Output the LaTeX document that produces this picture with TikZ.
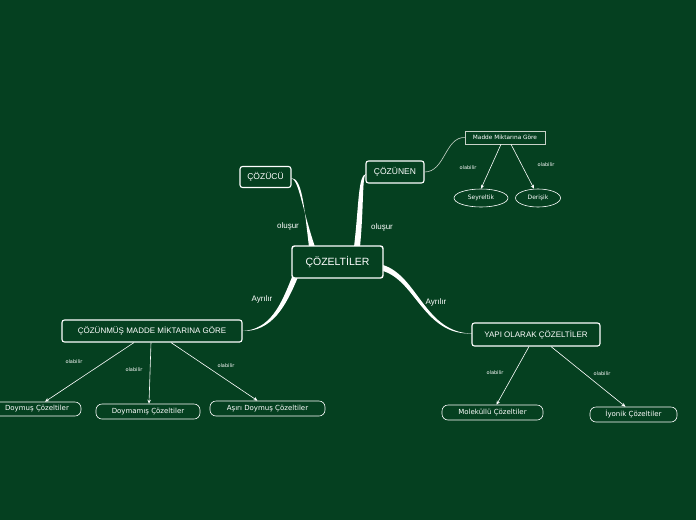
\documentclass[tikz,border=0pt]{standalone}
\usepackage{fontspec}
\setmainfont{DejaVu Sans}
\newfontfamily\headfont{Liberation Sans}
\usetikzlibrary{shapes.geometric,arrows.meta,calc}
\definecolor{bg}{RGB}{5,64,32}
\definecolor{soft}{RGB}{200,210,200}
\tikzset{
  head/.style={draw=white,fill=bg,text=white,rounded corners=2.5pt,line width=1.1pt,inner sep=0pt,font=\headfont},
  leaf/.style={draw=white,fill=bg,text=white,rounded corners=6pt,line width=0.6pt,inner sep=0pt,font=\fontsize{7}{8}\selectfont},
  oval/.style={draw=white,fill=bg,text=white,ellipse,line width=0.6pt,inner sep=0pt,font=\fontsize{6}{7}\selectfont},
  lab/.style={text=white,font=\fontsize{5}{6}\selectfont},
  blab/.style={text=white,font=\headfont\fontsize{8}{9}\selectfont},
  arr/.style={draw=white,line width=0.6pt,-{Stealth[length=4pt,width=3.5pt]}},
  branch/.style={fill=white},
}
\begin{document}
\begin{tikzpicture}[x=1pt,y=-1pt]
\fill[bg] (0,0) rectangle (696,520);
\useasboundingbox (0,0) rectangle (696,520);

% tapered main branches
\fill[branch] (309,247) .. controls (304,205) and (302,178) .. (291,178) .. controls (299,180) and (301,205) .. (315,247) -- cycle;
\fill[branch] (354,247) .. controls (359,205) and (358,175) .. (366,174) .. controls (362,176) and (364,205) .. (360,247) -- cycle;
\fill[branch] (292,277) .. controls (281,305) and (270,330) .. (242,331) .. controls (272,332) and (286,306) .. (298,277) -- cycle;
\fill[branch] (383,265) .. controls (418,276) and (425,333) .. (472,333.5) .. controls (424,335.5) and (416,281) .. (383,271) -- cycle;

% nodes
\node[head,minimum width=91pt,minimum height=32pt,line width=1.4pt,font=\headfont\fontsize{10.5}{12}\selectfont] (c) at (337.5,262) {ÇÖZELTİLER};
\node[head,minimum width=51pt,minimum height=21pt,font=\headfont\fontsize{8.5}{10}\selectfont] (z) at (265.5,177) {ÇÖZÜCÜ};
\node[head,minimum width=58pt,minimum height=22pt,font=\headfont\fontsize{8.5}{10}\selectfont] (n) at (395,172) {ÇÖZÜNEN};
\node[draw=soft,fill=bg,text=white,line width=0.6pt,minimum width=80pt,minimum height=13pt,inner sep=0pt,font=\fontsize{5.8}{7}\selectfont] (m) at (505,137.5) {Madde Miktarına Göre};
\node[oval,minimum width=54pt,minimum height=18pt] (s) at (481,198) {Seyreltik};
\node[oval,minimum width=45pt,minimum height=18pt] (d) at (538,198) {Derişik};
\node[head,minimum width=180pt,minimum height=22pt,font=\headfont\fontsize{8}{10}\selectfont] (cm) at (152,331) {ÇÖZÜNMÜŞ MADDE MİKTARINA GÖRE};
\node[leaf,minimum width=88pt,minimum height=14pt] (l1) at (37,409) {Doymuş Çözeltiler};
\node[leaf,minimum width=104pt,minimum height=15pt] (l2) at (148,411.5) {Doymamış Çözeltiler};
\node[leaf,minimum width=115pt,minimum height=15pt] (l3) at (267.5,408.5) {Aşırı Doymuş Çözeltiler};
\node[head,minimum width=128pt,minimum height=23pt,font=\headfont\fontsize{8}{10}\selectfont] (y) at (536,334.5) {YAPI OLARAK ÇÖZELTİLER};
\node[leaf,minimum width=101pt,minimum height=15pt] (l4) at (492.5,412.5) {Moleküllü Çözeltiler};
\node[leaf,minimum width=87pt,minimum height=15pt] (l5) at (633.5,414.5) {İyonik Çözeltiler};

% thin curve
\draw[soft,line width=0.6pt] (n.east) .. controls (445,172) and (445,137) .. (m.west);

% arrows
\draw[arr] ($(m.south)+(-4,0)$) -- (s.north);
\draw[arr] ($(m.south)+(6,0)$) -- ($(d.north)+(-4,0)$);
\draw[arr] ($(cm.south)+(-18,0)$) -- ($(l1.north)+(8,0)$);
\draw[arr] ($(cm.south)+(-1,0)$) -- ($(l2.north)+(1,0)$);
\draw[arr] ($(cm.south)+(19,0)$) -- ($(l3.north)+(-10,0)$);
\draw[arr] ($(y.south)+(-7,0)$) -- ($(l4.north)+(4,0)$);
\draw[arr] ($(y.south)+(15,0)$) -- ($(l5.north)+(-8,0)$);

% labels
\node[blab] (o1) at (288,226) {oluşur};
\node[blab] (o2) at (382,227) {oluşur};
\node[blab] (a1) at (262,299) {Ayrılır};
\node[blab] (a2) at (436,302) {Ayrılır};
\node[lab] (b1) at (468,168) {olabilir};
\node[lab] (b2) at (546,165) {olabilir};
\node[lab] (b3) at (74,362) {olabilir};
\node[lab] (b4) at (134,370) {olabilir};
\node[lab] (b5) at (226,366) {olabilir};
\node[lab] (b6) at (495,373) {olabilir};
\node[lab] (b7) at (602,374) {olabilir};
\end{tikzpicture}
\end{document}
